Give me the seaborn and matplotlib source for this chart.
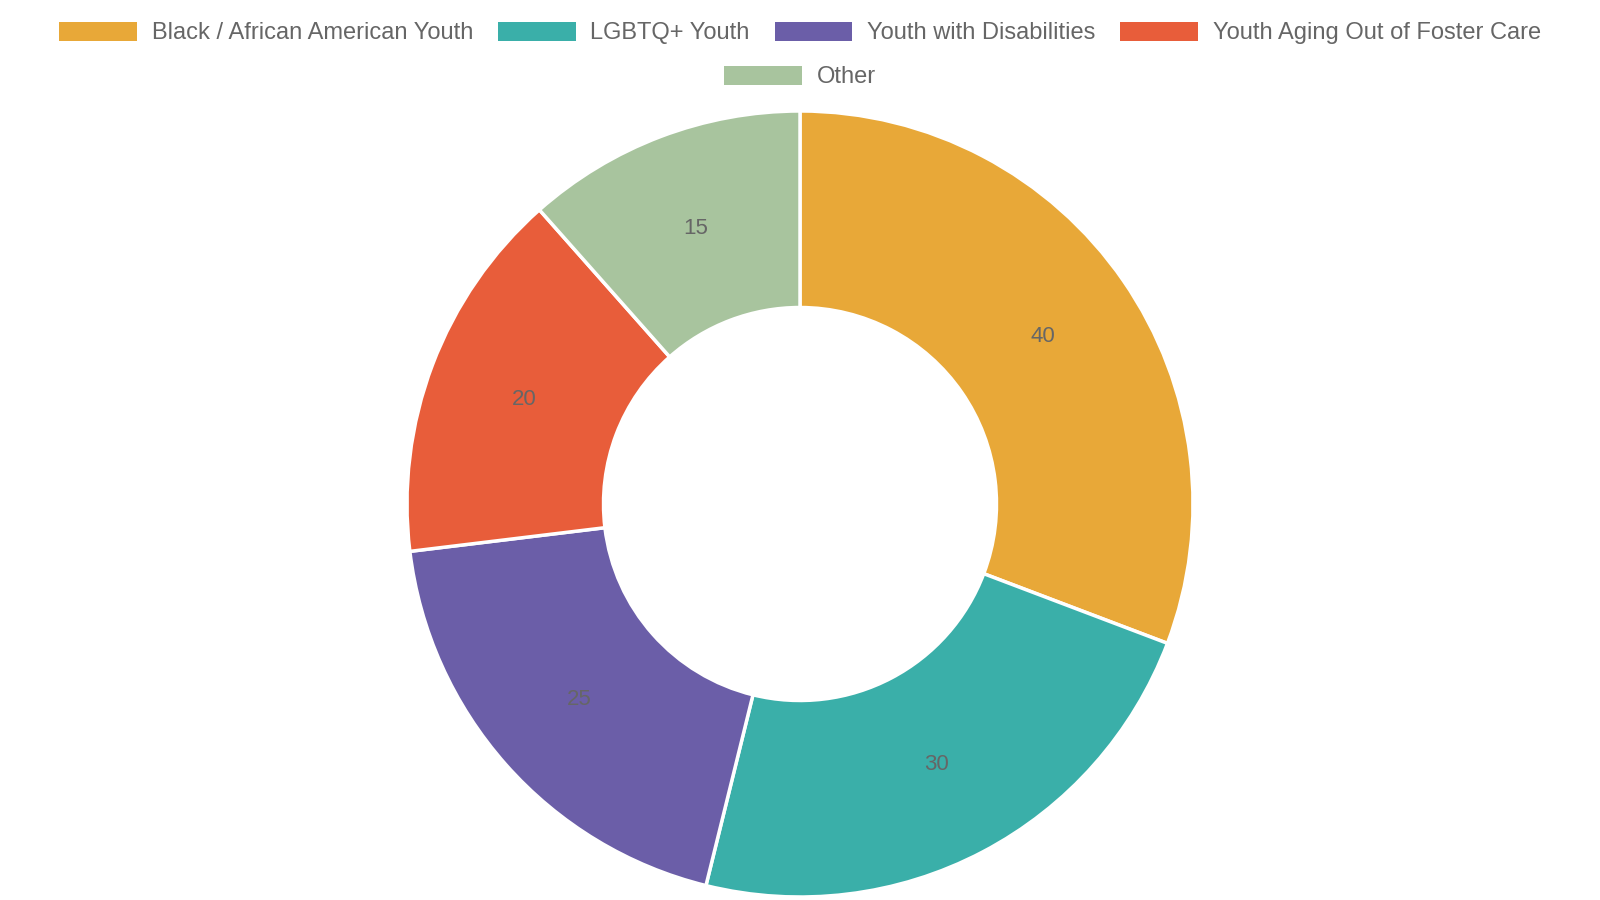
import matplotlib
matplotlib.use("Agg")
import matplotlib.pyplot as plt
import matplotlib.patches as mpatches
import seaborn as sns
import numpy as np

sns.set_theme(style="white")
plt.rcParams['font.family'] = ['Liberation Sans', 'DejaVu Sans']

# data
groups = ["Black / African American Youth", "LGBTQ+ Youth", "Youth with Disabilities",
          "Youth Aging Out of Foster Care", "Other"]
counts = [40, 30, 25, 20, 15]
colors = ["#E8A838", "#3AAFA9", "#6B5EA8", "#E85D3A", "#A8C49E"]

text_col = "#666666"

fig = plt.figure(figsize=(16, 9), dpi=100)
fig.patch.set_facecolor("white")

# donut axes, centre ~ (800, 504) px, radius ~ 393 px
r_px = 393
cx, cy = 800, 504
ax = fig.add_axes([(cx - r_px) / 1600, (900 - cy - r_px) / 900, 2 * r_px / 1600, 2 * r_px / 900])

wedges, _ = ax.pie(counts, colors=colors, startangle=90, counterclock=False, radius=1,
                   wedgeprops=dict(width=0.5, edgecolor="white", linewidth=2.5))

# value labels in the middle of the ring
total = sum(counts)
start = 90
for v in counts:
    mid = np.deg2rad(start - v / total * 360 / 2)
    ax.text(0.75 * np.cos(mid), 0.75 * np.sin(mid), str(v), ha="center", va="center",
            fontsize=16, color=text_col)
    start -= v / total * 360

ax.set_xlim(-1, 1)
ax.set_ylim(-1, 1)
ax.set_aspect("equal")
ax.axis("off")

# legend in two centred rows
handles = [mpatches.Patch(facecolor=c, edgecolor="none") for c in colors]
leg_kw = dict(frameon=False, fontsize=17, handlelength=3.3, handleheight=0.85,
              handletextpad=0.62, columnspacing=1.05, labelcolor=text_col, borderaxespad=0)
fig.legend(handles[:4], groups[:4], loc="center", ncol=4,
           bbox_to_anchor=(0.5, 1 - 33 / 900), **leg_kw)
fig.legend(handles[4:], groups[4:], loc="center", ncol=1,
           bbox_to_anchor=(0.5, 1 - 77 / 900), **leg_kw)

fig.savefig("out.png", dpi=100, facecolor="white")
